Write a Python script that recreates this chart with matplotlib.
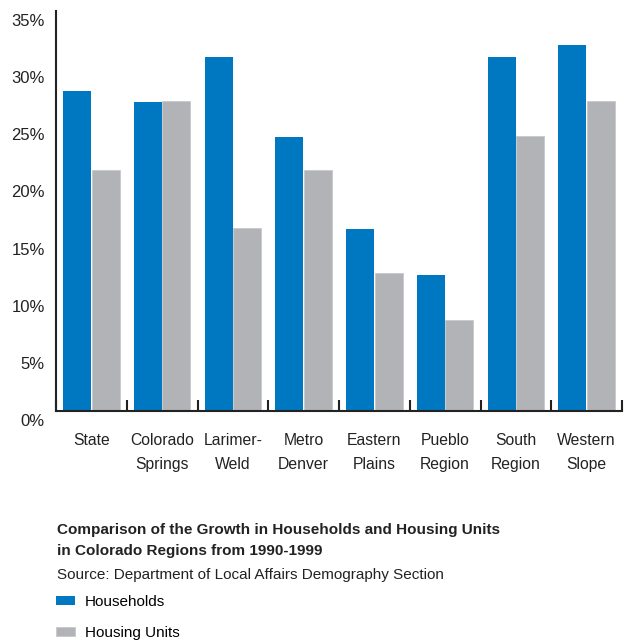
import numpy as np
import matplotlib
matplotlib.use('Agg')
from matplotlib import pyplot as plt
from matplotlib import transforms

regions = ['State', 'Colorado\nSprings', 'Larimer-\nWeld', 'Metro\nDenver', 'Eastern\nPlains',
           'Pueblo\nRegion', 'South\nRegion', 'Western\nSlope']
households = [28.0, 27.0, 31.0, 24.0, 15.9, 11.9, 31.0, 32.0]
housing_units = [21.1, 27.1, 16.0, 21.1, 12.1, 8.0, 24.1, 27.1]
y_ticks = [0, 5, 10, 15, 20, 25, 30, 35]

blue = '#0078C1'
gray = '#B2B3B7'
plt.rcParams['font.family'] = ['Liberation Sans', 'DejaVu Sans']

fig = plt.figure(figsize=(6.25, 6.4), dpi=100)
ax = fig.add_axes([56 / 625, 1 - 411 / 640, 566 / 625, 400 / 640])

x = np.arange(len(regions))
w = 0.395
ax.bar(x - w / 2 - 0.005, households, width=w, color=blue, label='Households')
ax.bar(x + w / 2 + 0.005, housing_units, width=w, color=gray, edgecolor='#C8C9CC', linewidth=0.6,
       label='Housing Units')

ax.set_xlim(-0.5, len(regions) - 0.5)
ax.set_ylim(0, 35)

for side in ['top', 'right']:
    ax.spines[side].set_visible(False)
for side in ['left', 'bottom']:
    ax.spines[side].set_linewidth(1.5)
    ax.spines[side].set_color('#222222')

ax.set_xticks(x)
ax.set_xticklabels(regions, fontsize=11.3, color='#222222', linespacing=1.75)
ax.set_xticks(np.arange(len(regions) + 1) - 0.5, minor=True)
ax.tick_params(axis='x', which='major', length=0, pad=16)
ax.tick_params(axis='x', which='minor', direction='in', length=8, width=1.5, color='#222222')

ax.set_yticks(y_ticks)
ax.set_yticklabels([f'{v}%' for v in y_ticks], fontsize=12, color='#222222')
ax.tick_params(axis='y', length=0, pad=8)
# labels in the original sit a little below their values
shift = transforms.ScaledTranslation(0, -0.09, fig.dpi_scale_trans)
for lbl in ax.get_yticklabels():
    lbl.set_transform(lbl.get_transform() + shift)

fig.text(57 / 625, 1 - 530 / 640, 'Comparison of the Growth in Households and Housing Units',
         fontsize=11, fontweight='bold', va='center', color='#222222')
fig.text(57 / 625, 1 - 551 / 640, 'in Colorado Regions from 1990-1999',
         fontsize=11, fontweight='bold', va='center', color='#222222')
fig.text(57 / 625, 1 - 575 / 640, 'Source: Department of Local Affairs Demography Section',
         fontsize=11, va='center', color='#222222')

handles, labels = ax.get_legend_handles_labels()
fig.legend(handles, labels, loc='upper left', bbox_to_anchor=(56 / 625, 1 - 595 / 640),
           frameon=False, fontsize=11, handlelength=1.25, handleheight=0.6,
           handletextpad=0.65, labelspacing=1.1, borderaxespad=0, borderpad=0)

fig.savefig('out.png', dpi=100)
